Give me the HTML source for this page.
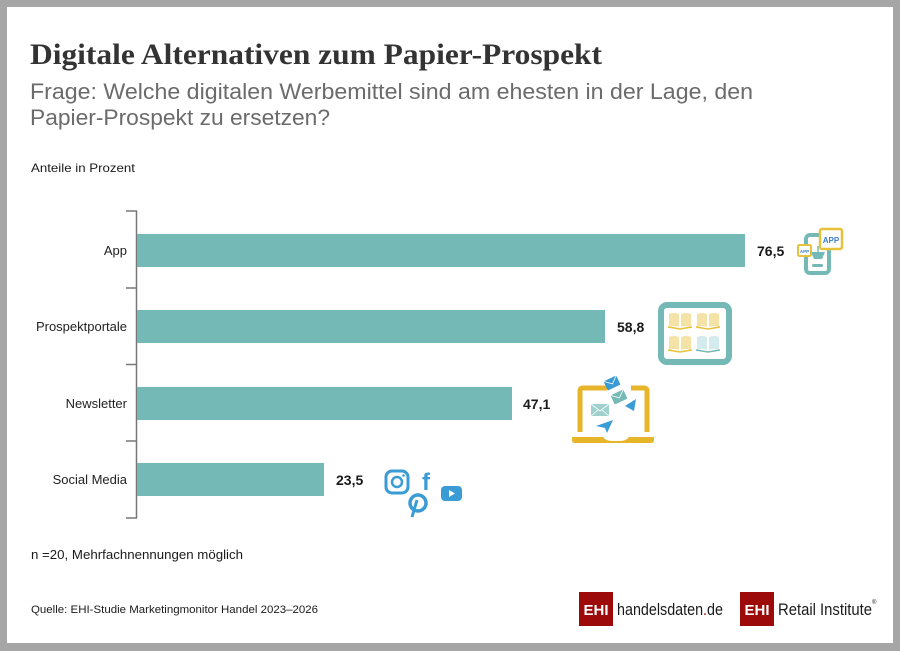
<!DOCTYPE html>
<html><head><meta charset="utf-8">
<style>
html,body{margin:0;padding:0;background:#a6a6a6;}
svg{display:block;}
</style></head>
<body>
<svg width="900" height="651" viewBox="0 0 900 651" xmlns="http://www.w3.org/2000/svg" font-family="Liberation Sans, sans-serif">
<rect x="0" y="0" width="900" height="651" fill="#a6a6a6"/>
<rect x="7" y="7" width="886" height="636" fill="#ffffff"/>

<!-- Title -->
<text x="30" y="64" font-family="Liberation Serif, serif" font-weight="bold" font-size="30" fill="#333333" textLength="572" lengthAdjust="spacingAndGlyphs">Digitale Alternativen zum Papier-Prospekt</text>
<text x="30" y="99" font-size="22" fill="#6b6b6b" textLength="723" lengthAdjust="spacingAndGlyphs">Frage: Welche digitalen Werbemittel sind am ehesten in der Lage, den</text>
<text x="30" y="125" font-size="22" fill="#6b6b6b" textLength="300" lengthAdjust="spacingAndGlyphs">Papier-Prospekt zu ersetzen?</text>
<text x="31" y="172" font-size="12" fill="#1a1a1a" textLength="104" lengthAdjust="spacingAndGlyphs">Anteile in Prozent</text>

<!-- Axis -->
<g stroke="#777" stroke-width="1.5" fill="none">
<line x1="136.5" y1="211" x2="136.5" y2="518"/>
<line x1="126" y1="211" x2="137" y2="211"/>
<line x1="126" y1="288" x2="137" y2="288"/>
<line x1="126" y1="364.5" x2="137" y2="364.5"/>
<line x1="126" y1="441" x2="137" y2="441"/>
<line x1="126" y1="518" x2="137" y2="518"/>
</g>

<!-- Bars -->
<g fill="#75b9b6">
<rect x="137" y="234" width="608" height="33"/>
<rect x="137" y="310" width="468" height="33"/>
<rect x="137" y="387" width="375" height="33"/>
<rect x="137" y="463" width="187" height="33"/>
</g>

<!-- Category labels -->
<g font-size="13" fill="#222" text-anchor="end">
<text x="127" y="255">App</text>
<text x="127" y="331">Prospektportale</text>
<text x="127" y="408">Newsletter</text>
<text x="127" y="484">Social Media</text>
</g>

<!-- Values -->
<g font-size="14" font-weight="bold" fill="#1a1a1a">
<text x="757" y="256">76,5</text>
<text x="617" y="332">58,8</text>
<text x="523" y="409">47,1</text>
<text x="336" y="485">23,5</text>
</g>

<!-- App icon -->
<g>
<rect x="806" y="235" width="23" height="38" rx="4" fill="none" stroke="#75b9b6" stroke-width="4"/>
<rect x="812" y="264" width="11" height="3" rx="1.5" fill="#75b9b6"/>
<path d="M811 252 L825 252 L822 259 L814 259 Z" fill="#75b9b6"/>
<line x1="818" y1="246" x2="818" y2="252" stroke="#75b9b6" stroke-width="1.5"/>
<rect x="820" y="229" width="22" height="20" rx="2" fill="#fff" stroke="#e8c13a" stroke-width="2.5"/>
<text x="831" y="243" font-size="8" font-weight="bold" fill="#3d7ccc" text-anchor="middle">APP</text>
<rect x="798" y="245" width="13" height="11" rx="1.5" fill="#fff" stroke="#e8c13a" stroke-width="2"/>
<text x="804.5" y="253" font-size="4.5" font-weight="bold" fill="#3d7ccc" text-anchor="middle">APP</text>
</g>

<!-- Prospektportale icon (tablet) -->
<g>
<rect x="661" y="305" width="68" height="57" rx="6" fill="#fff" stroke="#75b9b6" stroke-width="6"/>
<g>
<path d="M669 314 Q674 312 679 314 L679 327 Q674 325 669 327 Z" fill="#f5e2a6"/>
<path d="M681 314 Q686 312 691 314 L691 327 Q686 325 681 327 Z" fill="#f5e2a6"/>
<path d="M668 327 L680 329 L692 327" fill="none" stroke="#e8c13a" stroke-width="1.5"/>
<path d="M697 314 Q702 312 707 314 L707 327 Q702 325 697 327 Z" fill="#f5e2a6"/>
<path d="M709 314 Q714 312 719 314 L719 327 Q714 325 709 327 Z" fill="#f5e2a6"/>
<path d="M696 327 L708 329 L720 327" fill="none" stroke="#e8c13a" stroke-width="1.5"/>
<path d="M669 337 Q674 335 679 337 L679 350 Q674 348 669 350 Z" fill="#f5e2a6"/>
<path d="M681 337 Q686 335 691 337 L691 350 Q686 348 681 350 Z" fill="#f5e2a6"/>
<path d="M668 350 L680 352 L692 350" fill="none" stroke="#e8c13a" stroke-width="1.5"/>
<path d="M697 337 Q702 335 707 337 L707 350 Q702 348 697 350 Z" fill="#d3ebec"/>
<path d="M709 337 Q714 335 719 337 L719 350 Q714 348 709 350 Z" fill="#d3ebec"/>
<path d="M696 350 L708 352 L720 350" fill="none" stroke="#75b9b6" stroke-width="1.5"/>
</g>
</g>

<!-- Newsletter icon (laptop) -->
<g>
<path d="M580 432 L580 391 Q580 388 583 388 L607 388 M631 388 L644 388 Q647 388 647 391 L647 432" fill="none" stroke="#e6b52a" stroke-width="5"/>
<path d="M572 437 L603 437 Q606 441 612 441 L620 441 Q626 441 629 437 L654 437 L654 440 Q654 443 651 443 L575 443 Q572 443 572 440 Z" fill="#e6b52a"/>
<g transform="translate(612,383) rotate(-25)">
<rect x="-7" y="-5" width="14" height="10" rx="1" fill="#3a9bd5"/>
<path d="M-7 -5 L0 1 L7 -5" fill="none" stroke="#fff" stroke-width="0.8"/>
</g>
<g transform="translate(619,397) rotate(-25)">
<rect x="-7" y="-5" width="14" height="10" rx="1" fill="#75b9b6"/>
<path d="M-7 -5 L0 1 L7 -5" fill="none" stroke="#fff" stroke-width="0.8"/>
</g>
<rect x="591" y="404" width="18" height="12" rx="1" fill="#9fd0cd"/>
<path d="M591 404 L600 411 L609 404 M591 416 L598 410 M609 416 L602 410" fill="none" stroke="#fff" stroke-width="0.8"/>
<path d="M625 406 L636 399 L634 411 Z" fill="#3a9bd5"/>
<path d="M596 426 L613 420 L607 433 L605 428 Z" fill="#3a9bd5"/>
</g>

<!-- Social media icons -->
<g>
<rect x="386" y="471" width="22" height="22" rx="6" fill="none" stroke="#3a9bd5" stroke-width="3"/>
<circle cx="397" cy="482" r="5" fill="none" stroke="#3a9bd5" stroke-width="2.5"/>
<circle cx="403.5" cy="475.5" r="1.3" fill="#3a9bd5"/>
<text x="422" y="490" font-size="24" font-weight="bold" fill="#3a9bd5">f</text>
<circle cx="418" cy="503" r="8" fill="none" stroke="#3a9bd5" stroke-width="3.5"/>
<line x1="417" y1="500" x2="412" y2="517" stroke="#3a9bd5" stroke-width="3"/>
<rect x="441" y="486" width="21" height="15" rx="4" fill="#3a9bd5"/>
<path d="M449 490 L455 493.5 L449 497 Z" fill="#fff"/>
</g>

<!-- Footnotes -->
<text x="31" y="559" font-size="13" fill="#1a1a1a" textLength="212" lengthAdjust="spacingAndGlyphs">n =20, Mehrfachnennungen möglich</text>
<text x="31" y="613" font-size="11" fill="#1a1a1a" textLength="287" lengthAdjust="spacingAndGlyphs">Quelle: EHI-Studie Marketingmonitor Handel 2023–2026</text>

<!-- Logos -->
<rect x="579" y="592" width="34" height="34" fill="#9c0a0a"/>
<text x="596" y="615" font-size="15" font-weight="bold" fill="#fff" text-anchor="middle">EHI</text>
<text x="617" y="615" font-size="17" fill="#1a1a1a" textLength="106" lengthAdjust="spacingAndGlyphs">handelsdaten<tspan fill="#c00000">.</tspan>de</text>
<rect x="740" y="592" width="34" height="34" fill="#9c0a0a"/>
<text x="757" y="615" font-size="15" font-weight="bold" fill="#fff" text-anchor="middle">EHI</text>
<text x="778" y="615" font-size="17" fill="#1a1a1a" textLength="94" lengthAdjust="spacingAndGlyphs">Retail Institute</text>
<text x="872" y="604" font-size="6" fill="#1a1a1a">®</text>
</svg>
</body></html>
